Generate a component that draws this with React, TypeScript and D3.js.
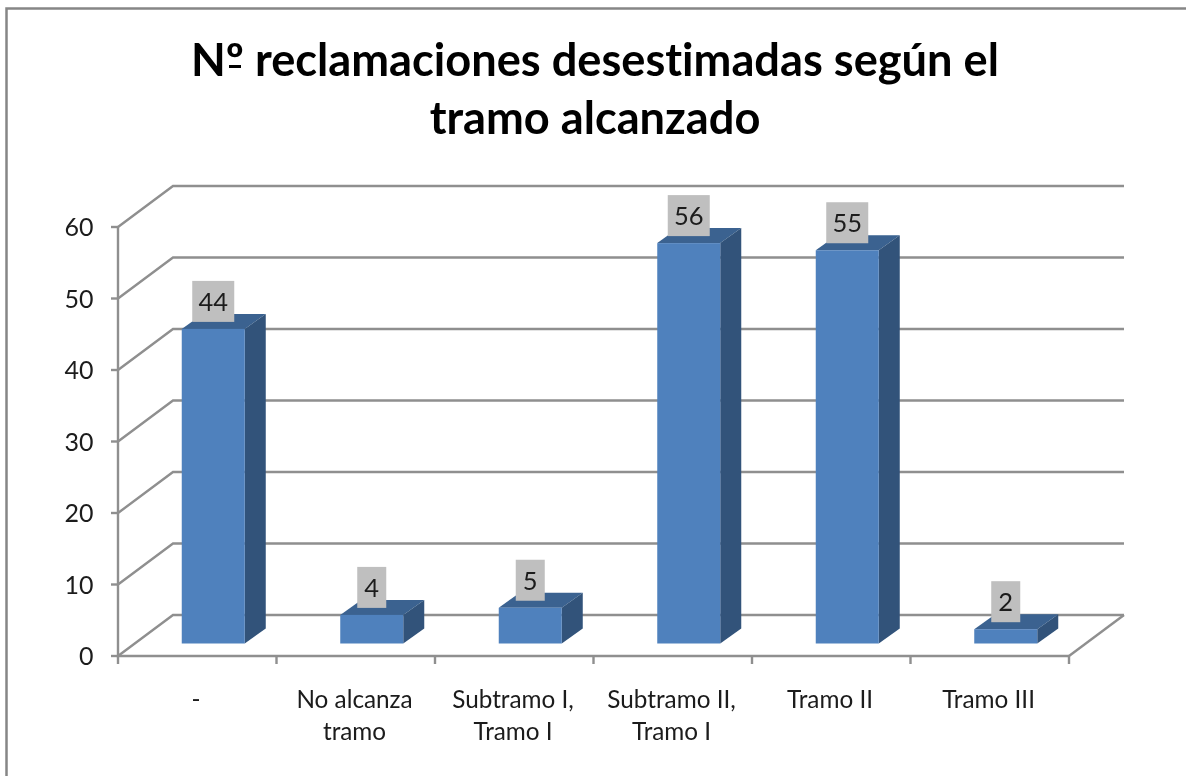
import React from "react";
import * as d3 from "d3";

const categories = ["-", "No alcanza|tramo", "Subtramo I,|Tramo I", "Subtramo II,|Tramo I", "Tramo II", "Tramo III"];
const values = [44, 4, 5, 56, 55, 2];
const yTicks = [0, 10, 20, 30, 40, 50, 60];
const titleLines = ["Nº reclamaciones desestimadas según el", "tramo alcanzado"];

const FONT = "Lato, 'Open Sans', sans-serif";
const DX = 55, DY = -41;
const BDX = 21, BDY = -15;

export default function App() {
  const y = d3.scaleLinear().domain([0, 60]).range([656, 227]);
  const x = d3.scaleBand().domain(categories).range([118, 1069]);
  const gridCol = "#8f8f8f";
  const barW = 63;
  const baseY = 643.5;
  return (
    <svg width={1187} height={776} style={{ position: "fixed", left: 0, top: 0, background: "#fff" }}>
      <defs>
        <filter id="soft" x="0" y="0" width="100%" height="100%">
          <feGaussianBlur stdDeviation={0.55} />
        </filter>
      </defs>
      <g filter="url(#soft)">
        <rect width={1187} height={776} fill="#fff" />
        <path d="M6.5 776 V8.5 H1186" fill="none" stroke="#868686" strokeWidth={2.5} />
        <g fill="none" stroke={gridCol} strokeWidth={2.4}>
          {yTicks.map((t) => (
            <path key={t} d={`M118 ${y(t)} L${118 + DX} ${y(t) + DY} H${1069 + DX}`} />
          ))}
          <path d={`M1069 ${y(0)} L${1069 + DX} ${y(0) + DY}`} />
          <path d={`M118 ${y(60)} V${y(0)} H1069`} />
          {yTicks.map((t) => (
            <path key={t} d={`M111 ${y(t)} H118`} />
          ))}
          {[...categories.map((c) => x(c) as number), 1069].map((px) => (
            <path key={px} d={`M${px} 656 V664`} />
          ))}
        </g>
        <g fontFamily={FONT} fill="#1a1a1a" fontSize={25}>
          {yTicks.map((t) => (
            <text key={t} x={93.5} y={y(t) + 9} textAnchor="end">{t}</text>
          ))}
          {categories.map((c) => (
            <text key={c} textAnchor="middle" fontSize={24.3}>
              {c.split("|").map((l, i) => (
                <tspan key={i} x={(x(c) as number) + x.bandwidth() / 2 - 1.2} y={708 + i * 32}>{l}</tspan>
              ))}
            </text>
          ))}
        </g>
        {categories.map((c, i) => {
          const v = values[i];
          const left = (x(c) as number) + (x.bandwidth() - barW) / 2 + 16;
          const top = baseY - (y(0) - y(v));
          const right = left + barW;
          const label = String(v);
          const boxW = label.length > 1 ? 42 : 29;
          const cx = left + barW / 2;
          return (
            <g key={c}>
              <path d={`M${left} ${top} L${left + BDX} ${top + BDY} H${right + BDX} L${right} ${top} Z`} fill="#3a6290" />
              <path d={`M${right} ${top} L${right + BDX} ${top + BDY} V${baseY + BDY} L${right} ${baseY} Z`} fill="#30527a" />
              <rect x={left} y={top} width={barW} height={baseY - top} fill="#4f81bd" />
              <rect x={cx - boxW / 2} y={top - 48} width={boxW} height={41} fill="#bfbfbf" />
              <text x={cx} y={top - 18} textAnchor="middle" fontFamily={FONT} fontSize={25.5} fill="#1a1a1a">{label}</text>
            </g>
          );
        })}
        <g fontFamily={FONT} fontWeight={700} fontSize={45.2} fill="#000" textAnchor="middle" style={{ fontVariantLigatures: "none" }}>
          {titleLines.map((l, i) => (
            <text key={i} x={595} y={76 + i * 58}>{l}</text>
          ))}
        </g>
        <rect x={229} y={65} width={12} height={3} fill="#000" />
      </g>
    </svg>
  );
}
